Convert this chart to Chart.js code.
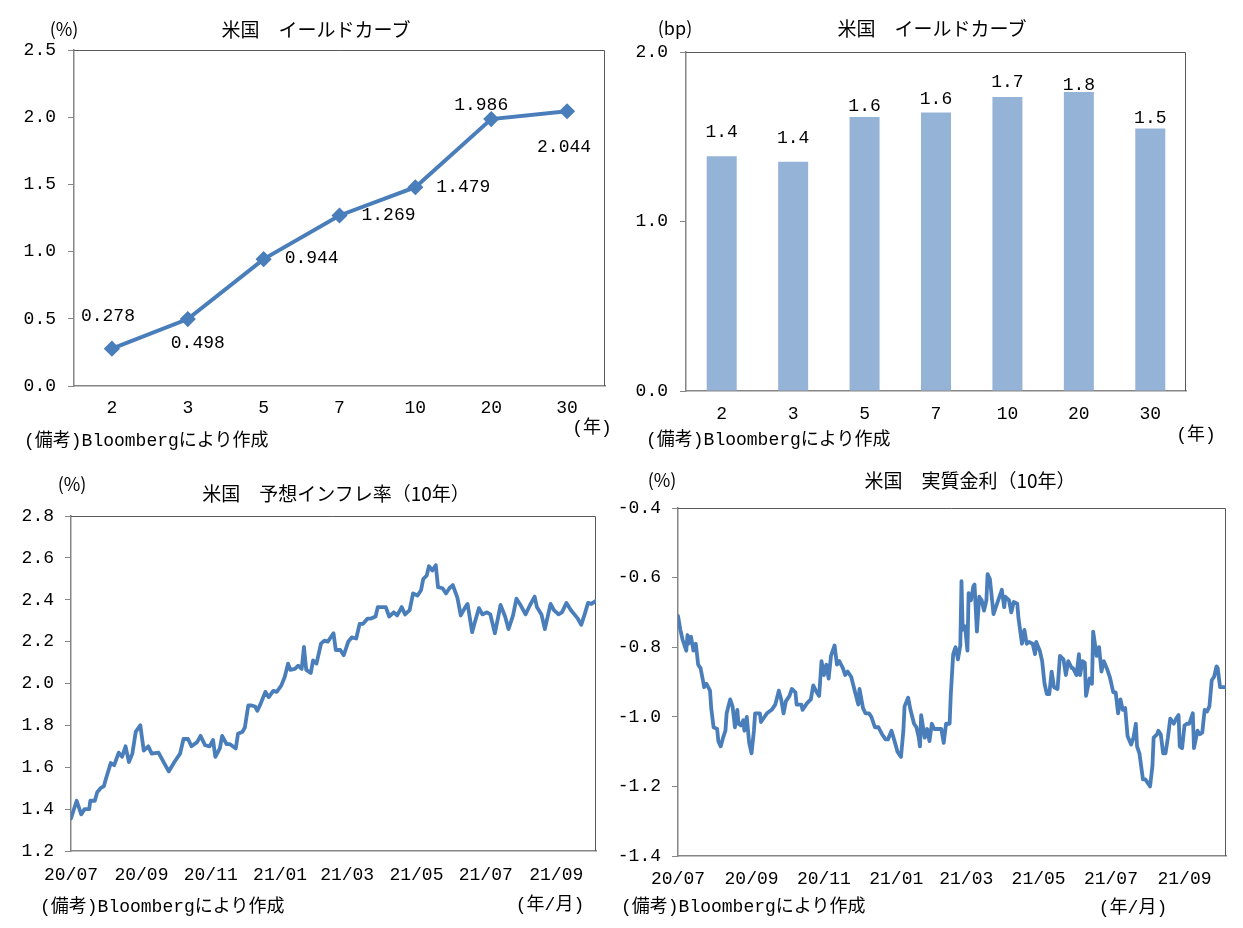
<!DOCTYPE html>
<html><head><meta charset="utf-8">
<script src="https://cdn.jsdelivr.net/npm/chart.js@4.4.1/dist/chart.umd.min.js"></script>
<style>
html,body{margin:0;padding:0;background:#fff;}
#wrap{position:relative;width:1243px;height:928px;overflow:hidden;background:#fff;}
canvas{position:absolute;left:0;top:0;}
.t{position:absolute;white-space:nowrap;font-family:'Liberation Mono','Noto Sans CJK JP',monospace;font-size:18px;color:#000;line-height:1;}
.c{transform:translate(-50%,-50%);}
.l{transform:translateY(-50%);}
.ttl{font-family:'Noto Sans CJK JP',sans-serif;font-size:19px;}
.u{font-family:'Noto Sans CJK JP',sans-serif;font-size:18px;}
</style></head>
<body><div id="wrap">
<canvas id="c1" width="1243" height="928"></canvas>
<canvas id="c2" width="1243" height="928"></canvas>
<canvas id="c3" width="1243" height="928"></canvas>
<canvas id="c4" width="1243" height="928"></canvas>

<div class="t c ttl" style="left:316px;top:28px">米国　イールドカーブ</div>
<div class="t c u" style="left:64px;top:28px">(%)</div>
<div class="t c" style="left:592px;top:428px">(年)</div>
<div class="t l" style="left:24px;top:441px">(備考)Bloombergにより作成</div>

<div class="t c ttl" style="left:932px;top:27px">米国　イールドカーブ</div>
<div class="t c u" style="left:675px;top:27px">(bp)</div>
<div class="t c" style="left:1196px;top:435px">(年)</div>
<div class="t l" style="left:646px;top:440px">(備考)Bloombergにより作成</div>

<div class="t c ttl" style="left:336px;top:492px">米国　予想インフレ率（10年）</div>
<div class="t c u" style="left:72px;top:483px">(%)</div>
<div class="t c" style="left:550px;top:905px">(年/月)</div>
<div class="t l" style="left:40px;top:907px">(備考)Bloombergにより作成</div>

<div class="t c ttl" style="left:970px;top:479px">米国　実質金利（10年）</div>
<div class="t c u" style="left:662px;top:479px">(%)</div>
<div class="t c" style="left:1133px;top:908px">(年/月)</div>
<div class="t l" style="left:621px;top:907px">(備考)Bloombergにより作成</div>
</div>
<script>
// ---------- data ----------
const maturities = ['2','3','5','7','10','20','30'];
const yieldValues = [0.278, 0.498, 0.944, 1.269, 1.479, 1.986, 2.044];
const barValues = [1.385, 1.353, 1.616, 1.643, 1.734, 1.764, 1.549];

// days since 2020-07-01
const tickDays = [0, 62, 123, 184, 243, 304, 365, 427];
const tickLabels = ['20/07','20/09','20/11','21/01','21/03','21/05','21/07','21/09'];

const inflDays = [0,2,5,9,12,16,17,21,23,26,29,31,35,38,42,45,48,51,54,57,61,64,68,71,77,82,86,91,96,99,103,106,111,114,118,122,125,127,131,133,137,140,145,147,151,153,156,159,162,164,167,171,174,178,181,185,188,191,193,197,200,203,205,207,211,213,216,220,223,226,231,233,237,240,244,247,251,254,257,261,264,268,270,274,277,280,284,287,291,294,298,301,305,308,310,313,315,318,321,323,327,330,333,336,340,343,347,349,353,355,359,362,366,369,373,376,378,382,385,389,392,395,400,404,408,410,414,417,422,425,429,432,436,440,443,446,449,452,455,458,462];
const inflValues = [1.355,1.39,1.44,1.375,1.40,1.40,1.44,1.44,1.48,1.50,1.51,1.55,1.62,1.61,1.67,1.65,1.70,1.625,1.665,1.77,1.80,1.68,1.70,1.665,1.67,1.62,1.58,1.625,1.665,1.735,1.735,1.70,1.72,1.75,1.705,1.70,1.73,1.65,1.69,1.75,1.71,1.71,1.69,1.76,1.77,1.79,1.895,1.895,1.89,1.87,1.905,1.96,1.935,1.965,1.96,1.99,2.03,2.095,2.065,2.07,2.085,2.07,2.175,2.065,2.05,2.11,2.095,2.19,2.205,2.20,2.24,2.16,2.16,2.135,2.20,2.22,2.215,2.285,2.285,2.31,2.31,2.32,2.365,2.365,2.365,2.32,2.34,2.325,2.365,2.33,2.35,2.43,2.42,2.445,2.50,2.515,2.56,2.54,2.565,2.46,2.455,2.43,2.455,2.47,2.41,2.325,2.365,2.38,2.245,2.285,2.36,2.33,2.34,2.33,2.24,2.32,2.375,2.32,2.26,2.325,2.405,2.38,2.33,2.375,2.415,2.365,2.33,2.26,2.38,2.35,2.33,2.34,2.385,2.35,2.33,2.31,2.28,2.33,2.385,2.38,2.395];

const realDays = [0,2,4,7,8,9,11,13,15,17,19,21,22,24,27,28,30,33,34,36,38,40,41,44,46,48,50,51,53,55,56,58,60,62,64,65,69,70,73,75,79,82,85,87,89,91,94,96,99,100,104,105,109,112,114,117,119,121,123,125,127,129,132,134,136,139,141,143,146,149,152,153,156,158,161,163,166,169,172,175,177,180,183,185,188,190,191,194,196,199,201,203,204,205,208,210,212,214,216,219,222,224,226,229,230,232,234,236,238,239,240,242,244,245,247,249,250,252,254,256,258,260,261,263,266,268,270,273,275,276,279,281,283,286,287,290,292,294,296,299,301,302,305,307,309,311,313,315,317,320,322,325,327,329,332,333,336,338,339,341,343,344,347,349,350,353,355,357,359,362,364,367,369,371,373,375,377,379,382,384,386,387,389,392,394,396,398,400,401,404,405,407,409,411,413,415,418,420,422,423,425,427,429,431,434,435,438,440,442,444,446,448,450,452,454,455,457,460,462];
const realValues = [-0.71,-0.75,-0.78,-0.81,-0.765,-0.79,-0.77,-0.81,-0.79,-0.85,-0.86,-0.895,-0.915,-0.905,-0.925,-0.975,-1.03,-1.035,-1.07,-1.085,-1.06,-1.04,-0.99,-0.95,-0.97,-1.03,-0.98,-1.02,-1.025,-1.01,-1.04,-1.0,-1.075,-1.105,-1.04,-0.99,-0.99,-1.015,-1.0,-0.99,-0.98,-0.965,-0.925,-0.95,-0.99,-0.955,-0.94,-0.92,-0.93,-0.965,-0.965,-0.98,-0.96,-0.95,-0.91,-0.93,-0.94,-0.84,-0.88,-0.85,-0.89,-0.825,-0.795,-0.85,-0.84,-0.86,-0.88,-0.87,-0.885,-0.925,-0.965,-0.92,-0.975,-0.99,-0.99,-1.0,-1.03,-1.03,-1.05,-1.065,-1.065,-1.04,-1.075,-1.10,-1.115,-1.04,-0.97,-0.945,-0.98,-1.02,-1.03,-1.06,-1.085,-0.995,-1.06,-1.035,-1.07,-1.02,-1.035,-1.035,-1.035,-1.075,-1.02,-1.02,-0.935,-0.82,-0.80,-0.835,-0.795,-0.61,-0.75,-0.74,-0.81,-0.645,-0.665,-0.625,-0.62,-0.755,-0.655,-0.665,-0.695,-0.665,-0.59,-0.605,-0.705,-0.685,-0.665,-0.635,-0.685,-0.655,-0.665,-0.70,-0.67,-0.675,-0.715,-0.79,-0.75,-0.79,-0.785,-0.79,-0.82,-0.785,-0.81,-0.84,-0.905,-0.935,-0.935,-0.87,-0.915,-0.92,-0.825,-0.835,-0.88,-0.84,-0.86,-0.86,-0.88,-0.82,-0.88,-0.84,-0.845,-0.94,-0.89,-0.905,-0.755,-0.825,-0.80,-0.87,-0.84,-0.865,-0.885,-0.93,-0.93,-0.99,-0.95,-0.98,-0.975,-1.055,-1.08,-1.06,-1.02,-1.085,-1.105,-1.18,-1.18,-1.19,-1.20,-1.14,-1.06,-1.05,-1.04,-1.05,-1.105,-1.105,-1.06,-1.005,-1.02,-1.005,-0.995,-1.085,-1.09,-1.025,-1.02,-1.02,-0.99,-1.09,-1.04,-1.05,-1.045,-0.98,-0.985,-0.97,-0.895,-0.885,-0.855,-0.86,-0.915,-0.915,-0.915];

// ---------- styling helpers ----------
const FAM = "'Liberation Mono', 'Noto Sans CJK JP', monospace";
const TICK_FONT = {family: FAM, size: 18};
const AXIS_GRAY = '#868686';
const BLUE = '#4a7ebb';

const frame = {
  id: 'frame',
  beforeDatasetsDraw(chart) {
    const {ctx, chartArea: a} = chart;
    ctx.save();
    ctx.strokeStyle = '#595959';
    ctx.lineWidth = 1;
    ctx.beginPath();
    ctx.moveTo(a.left, a.top + 0.5);
    ctx.lineTo(a.right - 0.5, a.top + 0.5);
    ctx.lineTo(a.right - 0.5, a.bottom);
    ctx.stroke();
    ctx.restore();
  }
};

function labelPlugin(offsets, fmt) {
  return {
    id: 'valueLabels',
    afterDatasetsDraw(chart) {
      const ctx = chart.ctx;
      const meta = chart.getDatasetMeta(0);
      const data = chart.data.datasets[0].data;
      ctx.save();
      ctx.font = '18px ' + FAM;
      ctx.fillStyle = '#000';
      ctx.textAlign = 'center';
      ctx.textBaseline = 'middle';
      meta.data.forEach((el, i) => {
        const o = offsets[i];
        ctx.fillText(fmt(data[i]), el.x + o[0], el.y + o[1]);
      });
      ctx.restore();
    }
  };
}

function yAxis(min, max, step, width, pad) {
  return {
    type: 'linear', position: 'left', min: min, max: max,
    ticks: {stepSize: step, color: '#000', font: TICK_FONT, padding: pad,
            callback: v => Number(v).toFixed(1)},
    grid: {drawOnChartArea: false, drawTicks: true, tickLength: 6, tickColor: AXIS_GRAY, color: AXIS_GRAY},
    border: {display: true, color: AXIS_GRAY, width: 1.5},
    afterFit(s) { s.width = width; }
  };
}

function baseOptions(padding) {
  return {
    responsive: false, animation: false, devicePixelRatio: 1,
    layout: {padding: padding},
    plugins: {legend: {display: false}, tooltip: {enabled: false}, title: {display: false}},
    events: []
  };
}

function timeX(pad) {
  return {
    type: 'linear', min: 0, max: 462,
    afterBuildTicks(s) { s.ticks = tickDays.map(v => ({value: v})); },
    ticks: {autoSkip: false, maxRotation: 0, color: '#000', font: TICK_FONT, padding: pad,
            callback: (v, i) => tickLabels[i]},
    grid: {display: false, drawTicks: false},
    border: {display: true, color: AXIS_GRAY, width: 1.5},
    afterFit(s) { s.height = 40; }
  };
}

// ---------- chart 1: yield curve line ----------
const o1 = baseOptions({left: 14, right: 638, top: 50, bottom: 502});
o1.scales = {
  x: {type: 'category', offset: true,
      ticks: {color: '#000', font: TICK_FONT, padding: 11, autoSkip: false, maxRotation: 0},
      grid: {display: false, drawTicks: false},
      border: {display: true, color: AXIS_GRAY, width: 1.5},
      afterFit(s) { s.height = 40; }},
  y: yAxis(0, 2.5, 0.5, 60, 12)
};
new Chart(document.getElementById('c1'), {
  type: 'line',
  data: {labels: maturities, datasets: [{
    data: yieldValues, borderColor: BLUE, borderWidth: 4, tension: 0,
    pointStyle: 'rectRot', pointRadius: 7, pointBackgroundColor: BLUE,
    pointBorderColor: BLUE, pointBorderWidth: 1.5
  }]},
  options: o1,
  plugins: [frame, labelPlugin([[-4,-32],[10,24],[48,-1],[49,0],[48,0],[-10,-14],[-3,36]], v => v.toFixed(3))]
});

// ---------- chart 2: bars ----------
const o2 = baseOptions({left: 626, right: 57, top: 52, bottom: 497});
o2.scales = {
  x: {type: 'category', offset: true,
      ticks: {color: '#000', font: TICK_FONT, padding: 12, autoSkip: false, maxRotation: 0},
      grid: {display: false, drawTicks: false},
      border: {display: true, color: AXIS_GRAY, width: 1.5},
      afterFit(s) { s.height = 40; }},
  y: yAxis(0, 2, 1, 60, 12)
};
new Chart(document.getElementById('c2'), {
  type: 'bar',
  data: {labels: maturities, datasets: [{
    data: barValues, backgroundColor: '#95b3d7', borderWidth: 0,
    barPercentage: 0.42, categoryPercentage: 1.0
  }]},
  options: o2,
  plugins: [frame, labelPlugin([[0,-24],[0,-23],[0,-11],[0,-13],[0,-15],[0,-7],[0,-10]], v => v.toFixed(1))]
});

// ---------- chart 3: inflation expectations ----------
const o3 = baseOptions({left: 15, right: 647, top: 516, bottom: 37});
o3.scales = {x: timeX(13), y: yAxis(1.2, 2.8, 0.2, 56, 11)};
new Chart(document.getElementById('c3'), {
  type: 'line',
  data: {datasets: [{
    data: inflDays.map((d, i) => ({x: d, y: inflValues[i]})),
    borderColor: BLUE, borderWidth: 3.8, pointRadius: 0, tension: 0,
    borderJoinStyle: 'round', borderCapStyle: 'round'
  }]},
  options: o3,
  plugins: [frame]
});

// ---------- chart 4: real rates ----------
const o4 = baseOptions({left: 618, right: 17, top: 508, bottom: 32});
o4.scales = {x: timeX(12), y: yAxis(-1.4, -0.4, 0.2, 60, 11)};
new Chart(document.getElementById('c4'), {
  type: 'line',
  data: {datasets: [{
    data: realDays.map((d, i) => ({x: d, y: realValues[i]})),
    borderColor: BLUE, borderWidth: 3.8, pointRadius: 0, tension: 0,
    borderJoinStyle: 'round', borderCapStyle: 'round'
  }]},
  options: o4,
  plugins: [frame]
});
</script>
</body></html>
